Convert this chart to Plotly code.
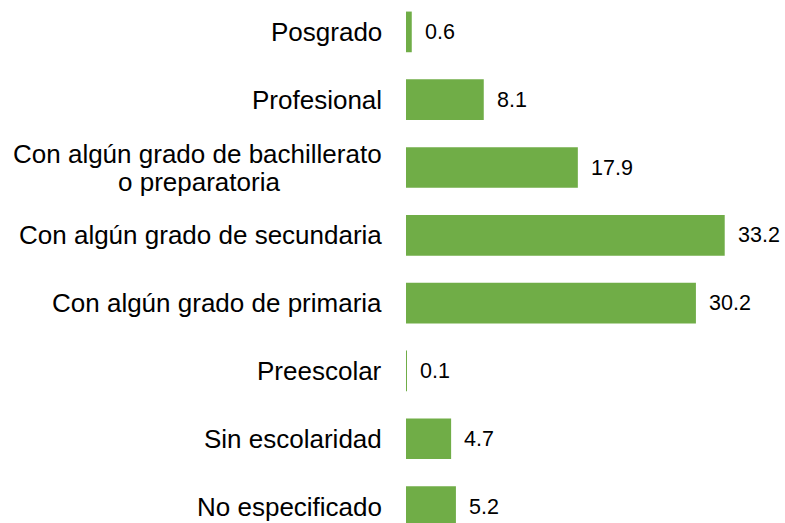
import plotly.graph_objects as go

categories = [
    "Posgrado",
    "Profesional",
    "Con algún grado de bachillerato<br>o preparatoria",
    "Con algún grado de secundaria",
    "Con algún grado de primaria",
    "Preescolar",
    "Sin escolaridad",
    "No especificado",
]
values = [0.6, 8.1, 17.9, 33.2, 30.2, 0.1, 4.7, 5.2]
value_labels = ["0.6", "8.1", "17.9", "33.2", "30.2", "0.1", "4.7", "5.2"]

FONT = "Liberation Sans, Arial, sans-serif"
GREEN = "#70AD47"
CAT_SIZE = 26
VAL_SIZE = 21.5

idx = list(range(len(categories)))

fig = go.Figure(
    go.Bar(
        x=values,
        y=idx,
        orientation="h",
        width=0.6,
        marker=dict(color=GREEN, line=dict(width=0)),
        hoverinfo="skip",
    )
)

annotations = []
for i, (c, v, t) in enumerate(zip(categories, values, value_labels)):
    lines = c.split("<br>")
    if len(lines) == 1:
        annotations.append(dict(
            x=0, xref="paper", y=i, yref="y", text=c, showarrow=False,
            xanchor="right", yanchor="middle", xshift=-22,
            font=dict(family=FONT, size=CAT_SIZE, color="#000000"),
        ))
    else:
        # first line right-aligned to the axis, following lines centred under it
        annotations.append(dict(
            x=0, xref="paper", y=i, yref="y", text=lines[0], showarrow=False,
            xanchor="right", yanchor="middle", xshift=-22, yshift=14,
            font=dict(family=FONT, size=CAT_SIZE, color="#000000"),
        ))
        for k, ln in enumerate(lines[1:], start=1):
            annotations.append(dict(
                x=(199 - 406) / 379, xref="paper", y=i, yref="y", text=ln,
                showarrow=False, xanchor="center", yanchor="middle",
                yshift=14 - 28 * k,
                font=dict(family=FONT, size=CAT_SIZE, color="#000000"),
            ))
    annotations.append(dict(
        x=v, xref="x", y=i, yref="y", text=t, showarrow=False,
        xanchor="left", yanchor="middle", xshift=11,
        font=dict(family=FONT, size=VAL_SIZE, color="#000000"),
    ))

fig.update_layout(
    width=785, height=523,
    margin=dict(l=406, r=0, t=0, b=0),
    paper_bgcolor="white", plot_bgcolor="white",
    showlegend=False,
    xaxis=dict(range=[0, 379 / 9.6], visible=False, fixedrange=True),
    yaxis=dict(range=[7.243, -0.4705], visible=False, fixedrange=True),
    annotations=annotations,
    font=dict(family=FONT),
)

fig.write_html(
    "out.html",
    config={"displayModeBar": False},
    post_script="document.body.style.margin='0px';document.body.style.padding='0px';",
)
